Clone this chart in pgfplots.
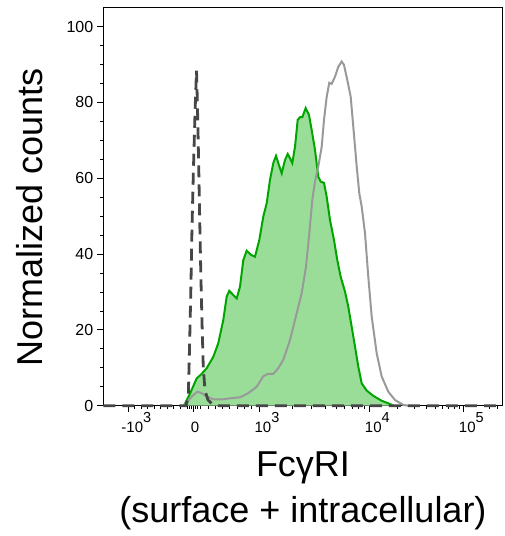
\documentclass[border=0pt]{standalone}
\usepackage{fontspec}
\setmainfont{Liberation Sans}
\usepackage{pgfplots}
\pgfplotsset{compat=1.18}

\definecolor{grline}{RGB}{0,165,0}
\definecolor{grfill}{RGB}{153,221,153}
\definecolor{isot}{RGB}{153,153,153}
\definecolor{unst}{RGB}{70,70,70}

% decade label: the exponent does not count for centring
\newcommand{\dec}[2]{#1\rlap{\raisebox{10pt}{\fontsize{14.5}{14.5}\selectfont #2}}}

\begin{document}
\begin{tikzpicture}
\useasboundingbox (-103.3pt,-130.3pt) rectangle (400.7pt,405.7pt);
\begin{axis}[
  scale only axis, width=399.4pt, height=398.4pt,
  xmin=103.3, xmax=502.7, ymin=0, ymax=105.1,
  clip=false,
  axis line style={line width=0.8pt},
  tick align=outside, tick pos=left,
  major tick length=6.5pt, minor tick length=3.5pt,
  tick style={black, line width=0.8pt},
  ytick={0,20,40,60,80,100}, minor y tick num=3,
  xtick={128.3,193.3,259,369.3,463.3},
  xticklabels={\dec{-10}{3},\makebox[0pt]{\hspace*{-4.6pt}0},\dec{10}{3},\dec{10}{4},\dec{10}{5}},
  minor xtick={134.8,141.3,147.8,154.3,160.8,167.3,173.8,180.3,
    187,189,191,195.5,197.5,
    200.6,208,215.2,222.5,229.8,237,244.4,251.7,
    292.2,311.6,325.4,336.1,344.8,352.2,358.6,364.3,
    397.6,414.1,425.9,435,442.4,448.7,454.2,459,
    489,497},
  /pgf/number format/assume math mode=true,
  yticklabel style={font=\fontsize{16}{16}\selectfont},
  xticklabel style={font=\fontsize{15}{15}\selectfont, anchor=base, xshift=4pt, yshift=-20pt},
  ylabel={Normalized counts},
  ylabel style={at={(axis description cs:-0.153,0.4737)}, anchor=base, rotate=0,
    font=\fontsize{36}{40}\selectfont},
  xlabel={FcγRI\\(surface + intracellular)},
  xlabel style={at={(axis description cs:0.5,-0.116)}, anchor=north, inner sep=0pt,
    align=center, font=\fontsize{36}{46}\selectfont},
]
% stained sample, filled
\addplot[fill=grfill, draw=none] coordinates {
(184,0)(190,3.2)(196.7,7.2)(201.7,8.4)(206.7,9.9)(213.3,12.9)(218.3,16.5)(223.3,22.6)
(226.7,28.8)(229.3,30.3)(233.3,29.2)(236.7,28.3)(240,31.4)(243.3,38.4)(246.7,40.9)
(251,39.8)(255,39.3)(259.3,43.7)(263.3,49.9)(266.7,53.4)(270,59.6)(273.3,64)(276,65.9)
(278.3,64)(281.7,61.3)(285,64.8)(287.7,66.4)(290,65.3)(292.3,64)(295,68.3)(297.7,75.4)
(300,76.1)(302.3,76.1)(305.7,78.5)(309,76.7)(311.7,72.7)(315,67.5)(318.3,60.4)
(320.7,59.1)(324,58.8)(326.7,55.1)(330,49)(334,43.7)(337.3,38.4)(340.7,34)(345,30.1)
(348.3,26.1)(351.7,20.8)(355,15.6)(358.3,10.3)(361.7,5.9)(366.7,4)(373.3,2.6)
(381.7,1.3)(390,0.45)(393.3,0)
} \closedcycle;
\addplot[grline, line width=2pt] coordinates {
(184,0)(190,3.2)(196.7,7.2)(201.7,8.4)(206.7,9.9)(213.3,12.9)(218.3,16.5)(223.3,22.6)
(226.7,28.8)(229.3,30.3)(233.3,29.2)(236.7,28.3)(240,31.4)(243.3,38.4)(246.7,40.9)
(251,39.8)(255,39.3)(259.3,43.7)(263.3,49.9)(266.7,53.4)(270,59.6)(273.3,64)(276,65.9)
(278.3,64)(281.7,61.3)(285,64.8)(287.7,66.4)(290,65.3)(292.3,64)(295,68.3)(297.7,75.4)
(300,76.1)(302.3,76.1)(305.7,78.5)(309,76.7)(311.7,72.7)(315,67.5)(318.3,60.4)
(320.7,59.1)(324,58.8)(326.7,55.1)(330,49)(334,43.7)(337.3,38.4)(340.7,34)(345,30.1)
(348.3,26.1)(351.7,20.8)(355,15.6)(358.3,10.3)(361.7,5.9)(366.7,4)(373.3,2.6)
(381.7,1.3)(390,0.45)(393.3,0)
};
% second sample, grey line
\addplot[isot, line width=2pt] coordinates {
(184,0)(191.7,2.4)(197.3,3.7)(201.7,3.3)(206.7,2.4)(213.3,1.7)(223.3,1.7)(231.7,2)
(240,2.2)(248.3,3.3)(256.7,5)(263.3,7.8)(268.3,8.4)(273.3,8.4)(278.3,9.9)(283.3,12.1)
(290,17.3)(296.7,24.4)(301.7,29.7)(306,36.7)(309.3,45.5)(312.3,54.3)(315,59.1)
(318.3,63.1)(321.7,68.3)(324,75.4)(326.7,81.5)(329.3,85.2)(331.7,84.9)(335,86.8)
(338.3,89.4)(341.7,90.8)(344,89.9)(347.3,85.9)(350.7,81.5)(353.3,73.6)(356.7,63.1)
(359.3,56)(361.7,52.5)(365,45.5)(368.3,34)(371.7,23.5)(376.7,13.8)(381.7,7.7)
(388.3,3.7)(395,1.5)(403.3,0.2)(408.3,0)
};
% unstained control, dashed
\addplot[unst, line width=2.8pt, dash pattern=on 12pt off 7pt] coordinates {
(103.3,0)(186,0)(188.3,2.4)(189.5,15)(190.8,30)(192,47)(193.5,63)(195,77)(196.5,88.4)
(196.8,86)(197.8,75)(198.8,62)(199.8,48)(200.8,35)(202,22)(203.3,10)(205,4)(208,1.5)
(212,0.5)(218,0)(502.7,0)
};
\end{axis}
\end{tikzpicture}
\end{document}
